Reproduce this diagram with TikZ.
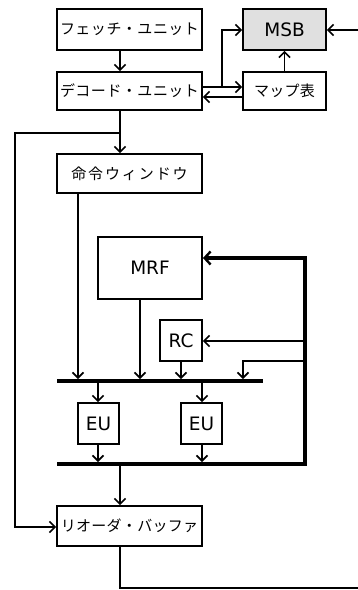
\documentclass[tikz,border=0pt]{standalone}
\usepackage{fontspec}
\setmainfont{DejaVu Sans}
\newfontfamily\jpfont{Noto Sans CJK JP}
\usetikzlibrary{arrows.meta}
\newcommand\jsp[2]{\def\jpitch{#1}\jspaux#2\relax}
\def\jspaux#1{\ifx\relax#1\else\makebox[\jpitch]{#1}\expandafter\jspaux\fi}
\tikzset{
  box/.style={draw, line width=1.9pt, inner sep=0pt, fill=white},
  jtext/.style={font=\jpfont\fontsize{15}{17}\selectfont},
  ltext/.style={font=\fontsize{18.5}{21}\selectfont},
  conn/.style={line width=1.6pt, -{Straight Barb[length=5.5pt,width=11pt,line width=1.6pt]}},
  plain/.style={line width=1.6pt},
  bus/.style={line width=4pt},
  thickarr/.style={line width=4pt, -{Straight Barb[length=6pt,width=13pt,line width=2.4pt]}},
}
\begin{document}
\begin{tikzpicture}[x=1pt,y=-1pt]
\useasboundingbox (0,0) rectangle (358,590);
% nodes
\node[box, jtext, minimum width=145pt, minimum height=41pt] (fetch) at (129.5,29.5) {\jsp{15.5pt}{フェッチ・ユニット}};
\node[box, jtext, minimum width=145pt, minimum height=38pt] (decode) at (129.5,91) {\jsp{15.5pt}{デコード・ユニット}};
\node[box, ltext, fill=black!12, minimum width=83pt, minimum height=41pt] (msb) at (284.5,29.5) {MSB};
\node[box, jtext, minimum width=83pt, minimum height=38pt] (map) at (284.5,91) {\jsp{15.2pt}{マップ表}};
\node[box, jtext, minimum width=145pt, minimum height=39pt] (window) at (129.5,173.5) {\jsp{16.9pt}{命令ウィンドウ}};
\node[box, ltext, minimum width=104pt, minimum height=62pt] (mrf) at (150,268) {MRF};
\node[box, ltext, minimum width=42pt, minimum height=41pt] (rc) at (181,340.5) {RC};
\node[box, ltext, minimum width=41pt, minimum height=41pt] (eu1) at (98.5,423.5) {EU};
\node[box, ltext, minimum width=41pt, minimum height=41pt] (eu2) at (201.5,423.5) {EU};
\node[box, jtext, minimum width=145pt, minimum height=40pt] (reorder) at (129.5,526) {\jsp{15.3pt}{リオーダ・バッファ}};
% coordinates
\coordinate (msbin) at (358,30);
\coordinate (branchD) at (222,87);
\coordinate (branchW) at (120,133);
\coordinate (busTL) at (57,381);
\coordinate (busTR) at (263,381);
\coordinate (busBL) at (57,464);
\coordinate (busBR) at (305,464);
\coordinate (ringTop) at (305,258);
\coordinate (rcTap) at (305,341);
\coordinate (busTap) at (305,361);
\coordinate (outEnd) at (358,588);
% buses
\draw[bus] (busTL) -- (busTR);
\draw[thickarr] (busBL) -- (busBR) -- (ringTop) -- (mrf.east |- ringTop);
% top connectors
\draw[conn] ([xshift=-9.5pt]fetch.south) -- ([xshift=-9.5pt]decode.north);
\draw[conn] (decode.east |- branchD) -- (map.west |- branchD);
\draw[conn] (branchD) -- (branchD |- msbin) -- (msb.west |- msbin);
\draw[conn] (map.west |- 0,97) -- (decode.east |- 0,97);
\draw[conn] (map.north) -- (msb.south);
\draw[conn] (msbin) -- (msb.east |- msbin);
\draw[conn] ([xshift=-9.5pt]decode.south) -- ([xshift=-9.5pt]window.north);
\draw[conn] (branchW) -- (15,133) -- (15,527) -- (reorder.west |- 0,527);
% to top bus
\draw[conn] (window.south -| 78,0) -- (78,379);
\draw[conn] (mrf.south -| 140,0) -- (140,379);
\draw[conn] (rc.south) -- (181,379);
\draw[conn] (rcTap) -- (rc.east |- rcTap);
\draw[conn] (busTap) -- (243,361) -- (243,379);
% bus to EUs
\draw[conn] (98,383) -- (eu1.north -| 98,0);
\draw[conn] (202,383) -- (eu2.north -| 202,0);
\draw[conn] (eu1.south -| 98,0) -- (98,462);
\draw[conn] (eu2.south -| 202,0) -- (202,462);
% to reorder
\draw[conn] (120,466) -- (reorder.north -| 120,0);
\draw[plain] (reorder.south -| 120,0) -- (120,588) -- (outEnd);
\end{tikzpicture}
\end{document}
